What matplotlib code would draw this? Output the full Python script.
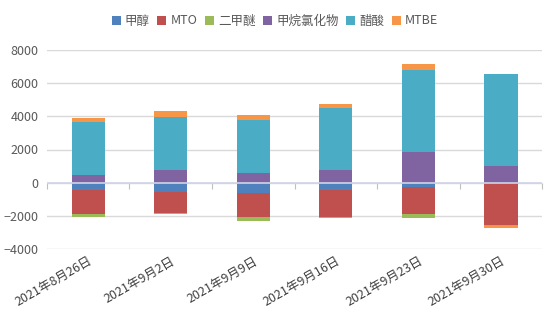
import numpy as np
import matplotlib
matplotlib.use('Agg')
import matplotlib.pyplot as plt

plt.rcParams['font.family'] = ['Noto Sans CJK SC', 'DejaVu Sans']

# weekly values
dates = ['2021年8月26日', '2021年9月2日', '2021年9月9日',
         '2021年9月16日', '2021年9月23日', '2021年9月30日']
series_names = ['甲醇', 'MTO', '二甲醚', '甲烷氯化物', '醋酸', 'MTBE']
methanol = [-420, -540, -620, -420, -280, -40]
mto = [-1480, -1280, -1460, -1680, -1640, -2540]
dme = [-160, -100, -240, -20, -240, -60]
chloromethane = [480, 780, 580, 780, 1820, 980]
acetic = [3200, 3160, 3220, 3740, 5000, 5600]
mtbe = [240, 400, 260, 220, 360, -100]

colors = ['#4F81BD', '#C0504D', '#9BBB59', '#8064A2', '#4BACC6', '#F79646']
all_series = [methanol, mto, dme, chloromethane, acetic, mtbe]

fig = plt.figure(figsize=(5.5, 3.25), dpi=100)
ax = fig.add_axes([0.085, 0.234, 0.901, 0.612])

x = np.arange(len(dates))
pos_base = np.zeros(len(dates))
neg_base = np.zeros(len(dates))
for name, vals, c in zip(series_names, all_series, colors):
    vals = np.array(vals, dtype=float)
    bottom = np.where(vals >= 0, pos_base, neg_base)
    ax.bar(x, vals, width=0.4, bottom=bottom, color=c, label=name, zorder=2)
    pos_base += np.where(vals >= 0, vals, 0)
    neg_base += np.where(vals < 0, vals, 0)

ymin, ymax = -4000, 8000
ax.set_ylim(ymin, ymax)
ax.set_xlim(-0.5, len(dates) - 0.5)
ax.set_yticks(np.arange(-4000, 8001, 2000))
ax.yaxis.grid(True, color='#D9D9D9', linewidth=1, zorder=0)
for s in ax.spines.values():
    s.set_visible(False)
ax.tick_params(axis='y', length=0, labelsize=9, labelcolor='#595959', pad=6)
ax.set_xticks(x)
ax.set_xticklabels(dates, rotation=30, ha='right', rotation_mode='anchor',
                   fontsize=9, color='#404040')
ax.tick_params(axis='x', length=0, pad=4)

# category axis on the zero line, drawn over the bars
ax.axhline(0, color='#D0D4E8', linewidth=1.2, zorder=3)
zero = (0 - ymin) / (ymax - ymin)
sec = ax.secondary_xaxis(zero)
sec.set_xticks(np.arange(-0.5, len(dates), 1))
sec.set_xticklabels([])
sec.tick_params(axis='x', length=4, color='#BFBFBF', direction='out')
sec.spines['bottom'].set_visible(False)

fig.legend(loc='upper center', bbox_to_anchor=(0.5, 0.99), ncol=6,
           frameon=False, fontsize=9, handlelength=0.7, handleheight=0.7,
           handletextpad=0.35, columnspacing=0.6, labelcolor='#595959')

fig.savefig('out.png', dpi=100)
